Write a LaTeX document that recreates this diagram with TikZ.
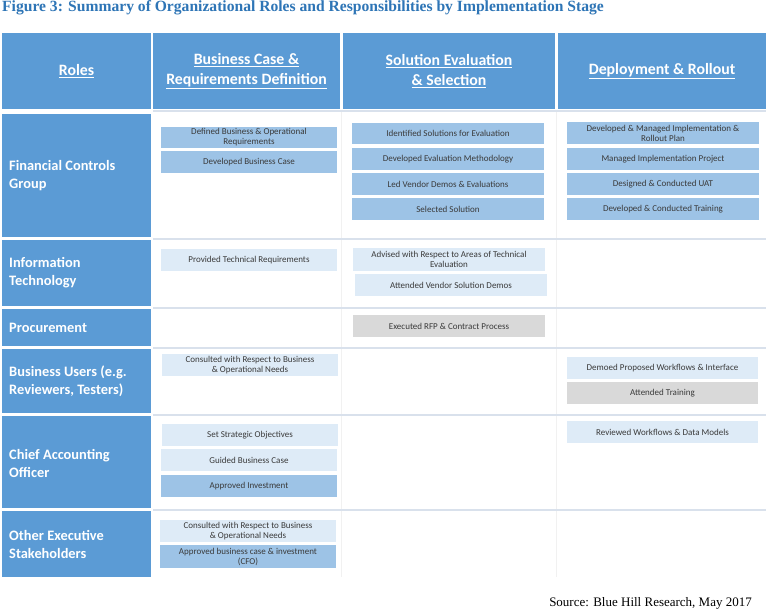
\documentclass[tikz,border=0pt]{standalone}
\usepackage{fontspec}
\setmainfont{Liberation Serif}
\newfontfamily\carl{Carlito}
\definecolor{hblue}{HTML}{5B9BD5}
\definecolor{medb}{HTML}{9DC3E6}
\definecolor{litb}{HTML}{DEEBF7}
\definecolor{gryb}{HTML}{D9D9D9}
\definecolor{ttl}{HTML}{2E75B6}
\definecolor{sepc}{HTML}{D9E1EC}
\definecolor{vsep}{HTML}{F1F1F1}
\definecolor{ctext}{HTML}{3A3A3A}
\tikzset{
  hdr/.style={fill=hblue, draw=none, text=white, inner sep=0pt, align=center,
    font=\carl\bfseries\fontsize{15.8}{19.5}\selectfont},
  lbl/.style={fill=hblue, draw=none, text=white, inner sep=0pt},
  lbltext/.style={text=white, anchor=west, align=left, inner sep=0pt,
    font=\carl\bfseries\fontsize{14.4}{18}\selectfont},
  cbox/.style={draw=none, inner sep=0pt, align=center, text=ctext,
    font=\carl\fontsize{9}{10}\selectfont},
  medbox/.style={cbox, fill=medb},
  litbox/.style={cbox, fill=litb},
  grybox/.style={cbox, fill=gryb},
  sepline/.style={draw=sepc, line width=2pt},
  vline/.style={draw=vsep, line width=1pt}
}
\newcommand\cellbox[7]{\node[#2, minimum width={(#5-#3)*1pt}, minimum height={(#6-#4)*1pt}] (#1) at ({(#3+#5)/2},{(#4+#6)/2}) {#7};}
\begin{document}
\begin{tikzpicture}[x=1pt,y=-1pt]
\useasboundingbox[fill=white] (0,0) rectangle (768,611);
% title
\node[anchor=west, inner sep=0pt, text=ttl, font=\bfseries\fontsize{15.6}{18}\selectfont] (title) at (2,8) {Figure 3: Summary of Organizational Roles and Responsibilities by Implementation Stage};
% separators in white area
\coordinate (s0l) at (153,111); \coordinate (s0r) at (766,111);
\coordinate (s1l) at (153,238.5); \coordinate (s1r) at (766,238.5);
\coordinate (s2l) at (153,307.5); \coordinate (s2r) at (766,307.5);
\coordinate (s3l) at (153,347.5); \coordinate (s3r) at (766,347.5);
\coordinate (s4l) at (153,414.5); \coordinate (s4r) at (766,414.5);
\coordinate (s5l) at (153,509.5); \coordinate (s5r) at (766,509.5);
\coordinate (v1t) at (341.5,112); \coordinate (v1b) at (341.5,577);
\coordinate (v2t) at (556.5,112); \coordinate (v2b) at (556.5,577);
\draw[vline] (v1t) -- (v1b);
\draw[vline] (v2t) -- (v2b);
\draw[sepline] (s0l) -- (s0r);
\draw[sepline] (s1l) -- (s1r);
\draw[sepline] (s2l) -- (s2r);
\draw[sepline] (s3l) -- (s3r);
\draw[sepline] (s4l) -- (s4r);
\draw[sepline] (s5l) -- (s5r);
% header
\cellbox{h1}{hdr}{2}{33}{151}{109}{\underline{Roles}}
\cellbox{h2}{hdr}{153}{33}{340}{109}{\underline{Business Case \&}\\\underline{Requirements Definition}}
\cellbox{h3}{hdr}{343}{33}{555}{109}{\underline{Solution Evaluation}\\\underline{\& Selection}}
\cellbox{h4}{hdr}{558}{33}{766}{109}{\underline{Deployment \& Rollout}}
% role labels
\cellbox{r1}{lbl}{2}{114}{151}{237}{}
\cellbox{r2}{lbl}{2}{240}{151}{306}{}
\cellbox{r3}{lbl}{2}{309}{151}{346}{}
\cellbox{r4}{lbl}{2}{349}{151}{413}{}
\cellbox{r5}{lbl}{2}{416}{151}{508}{}
\cellbox{r6}{lbl}{2}{511}{151}{577}{}
\node[lbltext] (t1) at (9,176) {Financial Controls\\Group};
\node[lbltext] (t2) at (9,273) {Information\\Technology};
\node[lbltext] (t3) at (9,328) {Procurement};
\node[lbltext] (t4) at (9,381) {Business Users (e.g.\\Reviewers, Testers)};
\node[lbltext] (t5) at (9,463) {Chief Accounting\\Officer};
\node[lbltext] (t6) at (9,544) {Other Executive\\Stakeholders};
% Financial Controls Group
\cellbox{a1}{medbox}{161}{127}{337}{148}{Defined Business \& Operational\\Requirements}
\cellbox{a2}{medbox}{161}{151}{337}{173}{Developed Business Case}
\cellbox{a3}{medbox}{352}{123}{544}{144}{Identified Solutions for Evaluation}
\cellbox{a4}{medbox}{352}{148}{544}{170}{Developed Evaluation Methodology}
\cellbox{a5}{medbox}{352}{173}{544}{195}{Led Vendor Demos \& Evaluations}
\cellbox{a6}{medbox}{352}{198}{544}{220}{Selected Solution}
\cellbox{a7}{medbox}{567}{122}{759}{144}{Developed \& Managed Implementation \&\\Rollout Plan}
\cellbox{a8}{medbox}{567}{148}{759}{170}{Managed Implementation Project}
\cellbox{a9}{medbox}{567}{173}{759}{195}{Designed \& Conducted UAT}
\cellbox{a10}{medbox}{567}{198}{759}{220}{Developed \& Conducted Training}
% Information Technology
\cellbox{b1}{litbox}{161}{249}{337}{271}{Provided Technical Requirements}
\cellbox{b2}{litbox}{353}{248}{545}{271}{Advised with Respect to Areas of Technical\\Evaluation}
\cellbox{b3}{litbox}{355}{274}{547}{296}{Attended Vendor Solution Demos}
% Procurement
\cellbox{c1}{grybox}{353}{315}{545}{337}{Executed RFP \& Contract Process}
% Business Users
\cellbox{d1}{litbox}{162}{354}{338}{376}{Consulted with Respect to Business\\\& Operational Needs}
\cellbox{d2}{litbox}{567}{357}{758}{379}{Demoed Proposed Workflows \& Interface}
\cellbox{d3}{grybox}{567}{382}{758}{404}{Attended Training}
% Chief Accounting Officer
\cellbox{e1}{litbox}{162}{424}{338}{446}{Set Strategic Objectives}
\cellbox{e2}{litbox}{161}{449}{337}{471}{Guided Business Case}
\cellbox{e3}{medbox}{161}{475}{337}{497}{Approved Investment}
\cellbox{e4}{litbox}{567}{421}{758}{443}{Reviewed Workflows \& Data Models}
% Other Executive Stakeholders
\cellbox{f1}{litbox}{160}{520}{336}{542}{Consulted with Respect to Business\\\& Operational Needs}
\cellbox{f2}{medbox}{160}{545}{336}{568}{Approved business case \& investment\\(CFO)}
% source
\node[anchor=east, inner sep=0pt, text=black, font=\fontsize{13}{15}\selectfont] (src) at (752,603) {Source: Blue Hill Research, May 2017};
\end{tikzpicture}
\end{document}
